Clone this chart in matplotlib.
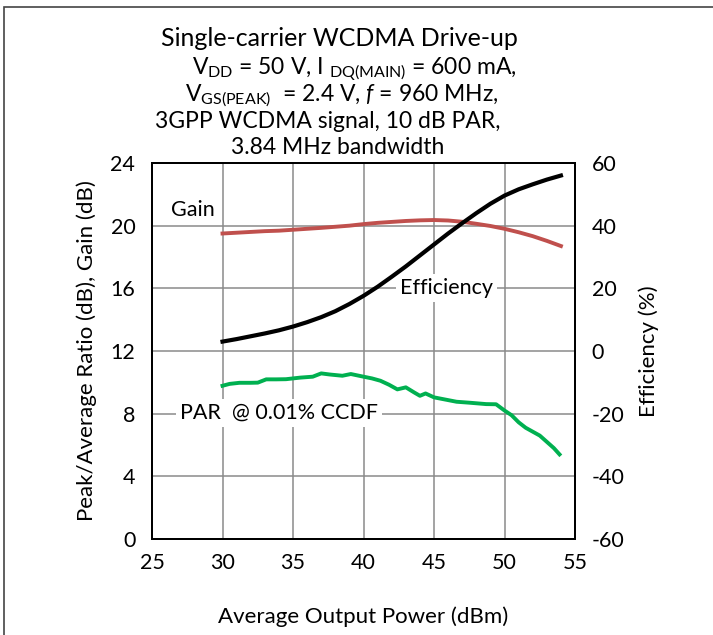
import matplotlib
matplotlib.use('Agg')
import matplotlib.pyplot as plt
from matplotlib.patches import Rectangle

plt.rcParams['font.family'] = ['Lato', 'DejaVu Sans']
plt.rcParams['mathtext.fontset'] = 'custom'
plt.rcParams['mathtext.rm'] = 'Lato'
plt.rcParams['mathtext.it'] = 'Lato:italic'
plt.rcParams['axes.unicode_minus'] = False

# Gain (dB), left axis
gain_x = [30, 31, 32, 33, 34, 35, 36, 37, 38, 39, 40, 41, 42, 43, 44, 45, 46, 47, 48, 49, 50, 51, 52, 53, 54]
gain_y = [19.5, 19.55, 19.6, 19.65, 19.68, 19.74, 19.8, 19.86, 19.93, 20.0, 20.1, 20.18, 20.24, 20.3, 20.34, 20.36, 20.33, 20.25, 20.12, 19.98, 19.8, 19.58, 19.33, 19.03, 18.7]

# Efficiency (%), right axis
eff_x = [30, 31, 32, 33, 34, 35, 36, 37, 38, 39, 40, 41, 42, 43, 44, 45, 46, 47, 48, 49, 50, 51, 52, 53, 54]
eff_y = [3.0, 3.8, 4.7, 5.6, 6.6, 7.8, 9.2, 10.8, 12.7, 15.0, 17.6, 20.5, 23.7, 27.0, 30.5, 34.0, 37.5, 40.8, 44.0, 47.0, 49.6, 51.6, 53.2, 54.7, 56.0]

# PAR @ 0.01% CCDF (dB), left axis
par_x = [30.0, 30.5, 31.2, 32.0, 32.5, 33.1, 33.8, 34.5, 35.5, 36.4, 37.0, 37.6, 38.5, 39.1, 40.0, 40.6, 41.2, 41.8, 42.4, 43.0, 43.6, 44.0, 44.4, 45.0, 45.8, 46.6, 47.5, 48.7, 49.4, 50.0, 50.5, 51.0, 51.5, 52.0, 52.5, 53.0, 53.5, 53.9]
par_y = [9.78, 9.9, 9.97, 9.97, 9.98, 10.19, 10.19, 10.2, 10.3, 10.36, 10.57, 10.5, 10.42, 10.53, 10.36, 10.25, 10.1, 9.85, 9.55, 9.68, 9.35, 9.14, 9.29, 9.04, 8.9, 8.76, 8.7, 8.61, 8.6, 8.2, 7.9, 7.45, 7.1, 6.85, 6.6, 6.2, 5.8, 5.4]

left_ticks = [0, 4, 8, 12, 16, 20, 24]
right_ticks = [-60, -40, -20, 0, 20, 40, 60]
x_ticks = [25, 30, 35, 40, 45, 50, 55]

fig = plt.figure(figsize=(7.13, 6.35), dpi=100)
ax = fig.add_axes([0.2132, 0.1512, 0.5933, 0.5921])
ax2 = ax.twinx()

ax.set_xlim(25, 55)
ax.set_ylim(0, 24)
ax2.set_ylim(-60, 60)
ax.set_xticks(x_ticks)
ax.set_yticks(left_ticks)
ax2.set_yticks(right_ticks)
ax.grid(True, color='#8a8a8a', linewidth=1.1)
ax.set_axisbelow(True)

ax.tick_params(axis='both', length=0, labelsize=15.5)
ax.tick_params(axis='x', pad=10)
ax.tick_params(axis='y', pad=12)
ax2.tick_params(axis='y', length=0, labelsize=15.5, pad=12)
for a in (ax, ax2):
    for s in a.spines.values():
        s.set_linewidth(1.4)

ax.plot(gain_x, gain_y, color='#c0504d', linewidth=2.8, zorder=3)
ax.plot(par_x, par_y, color='#00b050', linewidth=2.8, zorder=3)
ax2.plot(eff_x, eff_y, color='black', linewidth=3.0, zorder=3)

ax.text(27.9, 21.0, 'Gain', fontsize=15.5, ha='center', va='center',
        bbox=dict(facecolor='white', edgecolor='none', pad=2))
ax.text(45.9, 16.0, 'Efficiency', fontsize=15.5, ha='center', va='center', zorder=4,
        bbox=dict(facecolor='white', edgecolor='none', pad=3))
ax.text(27.0, 8.05, 'PAR  @ 0.01% CCDF', fontsize=15.5, ha='left', va='center', zorder=4,
        bbox=dict(facecolor='white', edgecolor='none', pad=3))

ax.set_xlabel('Average Output Power (dBm)', fontsize=16, labelpad=24)
ax.set_ylabel('Peak/Average Ratio (dB), Gain (dB)', fontsize=16, labelpad=10)
ax2.set_ylabel('Efficiency (%)', fontsize=16, labelpad=10)

# title block
fig.text(339 / 713, 1 - 38 / 635, 'Single-carrier WCDMA Drive-up', fontsize=18, ha='center', va='center')
fig.text(354 / 713, 1 - 69 / 635, r'$\mathrm{V_{DD}}$ = 50 V, I $\mathrm{_{DQ(MAIN)}}$ = 600 mA,', fontsize=16.5, ha='center', va='center')
fig.text(342 / 713, 1 - 96 / 635, r'$\mathrm{V_{GS(PEAK)}}$  = 2.4 V, $\mathit{f}$ = 960 MHz,', fontsize=16.5, ha='center', va='center')
fig.text(328 / 713, 1 - 122 / 635, '3GPP WCDMA signal, 10 dB PAR,', fontsize=16.5, ha='center', va='center')
fig.text(338 / 713, 1 - 148 / 635, '3.84 MHz bandwidth', fontsize=16.5, ha='center', va='center')

# outer frame
fig.patches.append(Rectangle((4 / 713, -0.05), 1.2, 1 - 7 / 635 + 0.05, transform=fig.transFigure,
                             fill=False, edgecolor='#444444', linewidth=1.2))

fig.savefig('out.png', dpi=100)
